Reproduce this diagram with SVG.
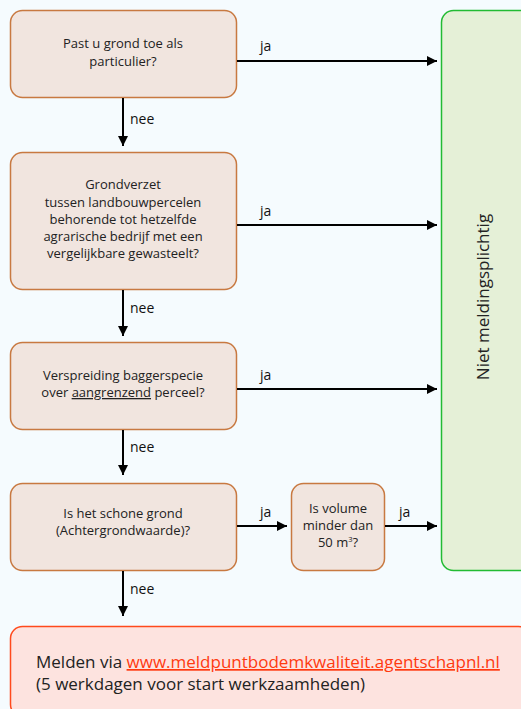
<svg xmlns="http://www.w3.org/2000/svg" width="521" height="709" viewBox="0 0 521 709">
<defs>
<marker id="ah" viewBox="0 0 10 10" refX="10" refY="5" markerWidth="10" markerHeight="10" markerUnits="userSpaceOnUse" orient="auto">
<path d="M0,0 L10,5 L0,10 z" fill="#000"/>
</marker>
<style>
.q{fill:#f1e5df;stroke:#c87941;stroke-width:1.5}
.t{font-family:"Open Sans","Liberation Sans",sans-serif;font-size:13px;fill:#222;text-anchor:middle}
.l{font-family:"Open Sans","Liberation Sans",sans-serif;font-size:14px;fill:#111}
.e{stroke:#000;stroke-width:2;fill:none;marker-end:url(#ah)}
</style>
</defs>
<rect x="0" y="0" width="521" height="709" fill="#f5fbfe"/>
<g id="n1">
<rect class="q" x="10.5" y="10.5" width="226" height="87" rx="12"/>
<text class="t" x="123" y="48">Past u grond toe als</text>
<text class="t" x="123" y="66">particulier?</text>
</g>
<g id="n2">
<rect class="q" x="10.5" y="152.5" width="226" height="137" rx="12"/>
<text class="t" x="123" y="189">Grondverzet</text>
<text class="t" x="123" y="207">tussen landbouwpercelen</text>
<text class="t" x="123" y="224">behorende tot hetzelfde</text>
<text class="t" x="123" y="241">agrarische bedrijf met een</text>
<text class="t" x="123" y="258">vergelijkbare gewasteelt?</text>
</g>
<g id="n3">
<rect class="q" x="10.5" y="342.5" width="226" height="87" rx="12"/>
<text class="t" x="123" y="380">Verspreiding baggerspecie</text>
<text class="t" x="123" y="397">over <tspan text-decoration="underline">aangrenzend</tspan> perceel?</text>
</g>
<g id="n4">
<rect class="q" x="10.5" y="483.5" width="226" height="87" rx="12"/>
<text class="t" x="123" y="518">Is het schone grond</text>
<text class="t" x="123" y="535">(Achtergrondwaarde)?</text>
</g>
<g id="n5">
<rect class="q" x="291.5" y="483.5" width="93" height="87" rx="12"/>
<text class="t" x="338" y="513">Is volume</text>
<text class="t" x="338" y="530">minder dan</text>
<text class="t" x="338" y="547">50 m<tspan font-size="7.5" dy="-5">3</tspan><tspan dy="5">?</tspan></text>
</g>
<g id="n6">
<rect x="441.5" y="10.5" width="96" height="560" rx="12" fill="#e5f0d7" stroke="#22bb33" stroke-width="1.5"/>
<text font-family="&quot;Open Sans&quot;,&quot;Liberation Sans&quot;,sans-serif" font-size="17" fill="#222" text-anchor="middle" transform="translate(489,297) rotate(-90)">Niet meldingsplichtig</text>
</g>
<g id="n7">
<rect x="10.5" y="626.5" width="520" height="90" rx="12" fill="#fde3df" stroke="#ff4a1c" stroke-width="1.5"/>
<text font-family="&quot;Open Sans&quot;,&quot;Liberation Sans&quot;,sans-serif" font-size="17" fill="#222" x="36" y="668">Melden via <tspan fill="#ff3a10" text-decoration="underline">www.meldpuntbodemkwaliteit.agentschapnl.nl</tspan></text>
<text font-family="&quot;Open Sans&quot;,&quot;Liberation Sans&quot;,sans-serif" font-size="17" fill="#222" x="36" y="690">(5 werkdagen voor start werkzaamheden)</text>
</g>
<g id="connectors">
<path class="e" d="M237,61 H437"/>
<path class="e" d="M237,225 H437"/>
<path class="e" d="M237,389 H437"/>
<path class="e" d="M237,526 H287"/>
<path class="e" d="M385,526 H437"/>
<path class="e" d="M123,98 V146"/>
<path class="e" d="M123,290 V336"/>
<path class="e" d="M123,430 V475"/>
<path class="e" d="M123,571 V616"/>
<text class="l" x="260" y="51">ja</text>
<text class="l" x="260" y="216">ja</text>
<text class="l" x="260" y="380">ja</text>
<text class="l" x="260" y="517">ja</text>
<text class="l" x="399" y="517">ja</text>
<text class="l" x="130" y="124">nee</text>
<text class="l" x="130" y="313">nee</text>
<text class="l" x="130" y="452">nee</text>
<text class="l" x="130" y="594">nee</text>
</g>
</svg>
